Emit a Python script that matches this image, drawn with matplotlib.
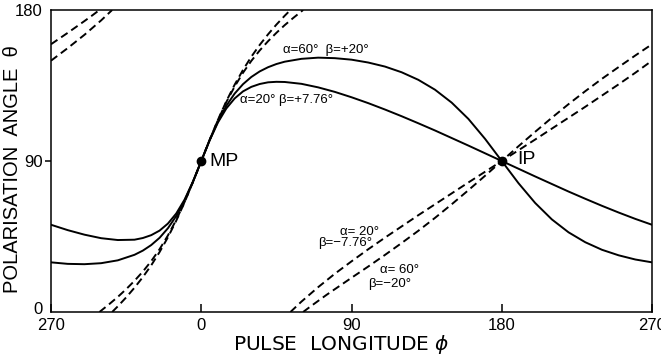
import matplotlib.pyplot as plt
import matplotlib.transforms as mtransforms
import numpy as np

plt.rcParams['font.family'] = ['Liberation Sans', 'DejaVu Sans']

# pulse longitude (deg) for the two solid curves
phi = [-90, -80, -70, -60, -50, -40, -35, -30, -25, -20, -15, -10, -5, 0,
       5, 10, 15, 20, 25, 30, 35, 40, 45, 50, 60, 70, 80, 90, 100, 110, 120,
       130, 140, 150, 160, 170, 180, 190, 200, 210, 220, 230, 240, 250, 260, 270]

# alpha=60, beta=+20 (solid)
psi_a60_p20 = [29.6, 28.7, 28.5, 29.1, 30.8, 34.1, 36.6, 39.9, 44.2, 49.9, 57.2,
               66.4, 77.6, 90, 102.4, 113.6, 122.9, 130.2, 135.8, 140.1, 143.4,
               145.9, 147.8, 149.2, 150.9, 151.6, 151.3, 150.4, 148.7, 146.3,
               142.9, 138.4, 132.5, 124.8, 115.1, 103.2, 90, 76.8, 65.0, 55.2,
               47.5, 41.6, 37.1, 33.8, 31.3, 29.6]

# alpha=20, beta=+7.76 (solid)
psi_a20_p776 = [52.0, 48.8, 46.1, 44.0, 42.9, 43.1, 44.1, 45.8, 48.5, 52.7, 58.7,
                67.0, 77.7, 90, 102.3, 113.0, 121.3, 127.3, 131.5, 134.2, 135.9,
                136.9, 137.2, 137.1, 136.0, 133.9, 131.2, 128.0, 124.5, 120.7,
                116.7, 112.5, 108.2, 103.7, 99.2, 94.6, 90, 85.4, 80.8, 76.3,
                71.8, 67.5, 63.3, 59.3, 55.5, 52.0]

# alpha=60, beta=-20 (dashed), three pieces because the angle wraps 180 -> 0
c1_x = [-90, -80, -75, -70, -65, -61]
c1_y = [159.6, 166.4, 169.9, 173.4, 177.0, 180]
c2_x = [-61, -55, -50, -45, -40, -35, -30, -25, -20, -15, -10, -5, 0,
        5, 10, 15, 20, 25, 30, 35, 40, 45, 50, 55, 61]
c2_y = [0, 4.8, 9.0, 13.6, 18.6, 24.1, 30.3, 37.4, 45.6, 54.9, 65.6, 77.5, 90,
        102.5, 114.4, 125.1, 134.4, 142.6, 149.7, 155.9, 161.4, 166.4, 171.0, 175.2, 180]
c3_x = [61, 65, 70, 75, 80, 90, 100, 110, 120, 130, 140, 150, 160, 170, 180,
        190, 200, 210, 220, 230, 240, 250, 260, 270]
c3_y = [0, 3.0, 6.6, 10.2, 13.6, 20.4, 27.1, 34.0, 41.1, 48.4, 56.1, 64.2, 72.6,
        81.2, 90, 98.8, 107.4, 115.8, 123.9, 131.6, 139.0, 146.0, 152.9, 159.6]

# alpha=20, beta=-7.76 (dashed)
d1_x = [-90, -80, -70, -60, -53.4]
d1_y = [149.8, 157.3, 165.2, 173.8, 180]
d2_x = [-53.4, -50, -45, -40, -35, -30, -25, -20, -15, -10, -5, 0,
        5, 10, 15, 20, 25, 30, 35, 40, 45, 50, 53.4]
d2_y = [0, 3.4, 8.7, 14.5, 20.8, 27.8, 35.7, 44.5, 54.4, 65.4, 77.4, 90,
        102.6, 114.6, 125.6, 135.5, 144.3, 152.2, 159.2, 165.5, 171.3, 176.6, 180]
d3_x = [53.4, 60, 70, 80, 90, 100, 110, 120, 130, 140, 150, 160, 170, 180,
        190, 200, 210, 220, 230, 240, 250, 260, 270]
d3_y = [0, 6.2, 14.8, 22.8, 30.2, 37.4, 44.3, 51.0, 57.7, 64.2, 70.7, 77.2, 83.6,
        90, 96.4, 102.8, 109.3, 115.8, 122.3, 129.0, 135.7, 142.6, 149.8]

# marked points
pts_x = [0, 180]
pts_y = [90, 90]

xticks = [-90, 0, 90, 180, 270]
xtick_labels = ['270', '0', '90', '180', '270']
yticks = [0, 90, 180]

fig = plt.figure(figsize=(6.61, 3.6), dpi=100)
ax = fig.add_axes([0.0772, 0.1333, 0.9092, 0.8389])

lw = 1.4
ax.plot(phi, psi_a60_p20, color='black', lw=lw, solid_joinstyle='round')
ax.plot(phi, psi_a20_p776, color='black', lw=lw, solid_joinstyle='round')
for xs, ys in [(c1_x, c1_y), (c2_x, c2_y), (c3_x, c3_y),
               (d1_x, d1_y), (d2_x, d2_y), (d3_x, d3_y)]:
    ax.plot(xs, ys, color='black', lw=lw, dashes=(4, 2.3))

ax.plot(pts_x, pts_y, 'o', color='black', ms=6)

ax.set_xlim(-90, 270)
ax.set_ylim(0, 180)
ax.set_xticks(xticks)
ax.set_xticklabels(xtick_labels)
ax.set_yticks(yticks)
ax.tick_params(axis='x', direction='in', length=6, width=1.1, pad=4.5, labelsize=12)
ax.tick_params(axis='y', direction='out', length=4, width=1.1, pad=2, labelsize=12)
for t in ax.xaxis.get_major_ticks():
    t.tick2line.set_visible(False)
ticks_y = ax.yaxis.get_major_ticks()
ticks_y[0].tick1line.set_visible(False)
ticks_y[2].tick1line.set_visible(False)
# lift the y "0" a little so it clears the x "270"
ticks_y[0].label1.set_transform(ticks_y[0].label1.get_transform() +
                                mtransforms.ScaledTranslation(0, 4 / 100, fig.dpi_scale_trans))
for s in ax.spines.values():
    s.set_linewidth(1.1)

# curve labels
fs = 9.5
ax.text(49, 154.5, 'α=60°  β=+20°', fontsize=fs, va='baseline')
ax.text(23, 124.6, 'α=20° β=+7.76°', fontsize=fs, va='baseline')
ax.text(83, 46, 'α= 20°', fontsize=fs, va='baseline')
ax.text(70, 39.5, 'β=−7.76°', fontsize=fs, va='baseline')
ax.text(107, 23, 'α= 60°', fontsize=fs, va='baseline')
ax.text(100, 14.8, 'β=−20°', fontsize=fs, va='baseline')

ax.text(5, 90, 'MP', fontsize=14, va='center')
ax.text(189, 91, 'IP', fontsize=14, va='center')

fig.text(341 / 661, 1 - 344 / 360, 'PULSE  LONGITUDE $\\phi$', fontsize=14.5,
         family='DejaVu Sans', ha='center', va='center')
fig.text(13 / 661, 1 - 169 / 360, 'POLARISATION  ANGLE  θ', fontsize=14.5,
         rotation=90, ha='center', va='center')

fig.savefig('out.png', dpi=100)
